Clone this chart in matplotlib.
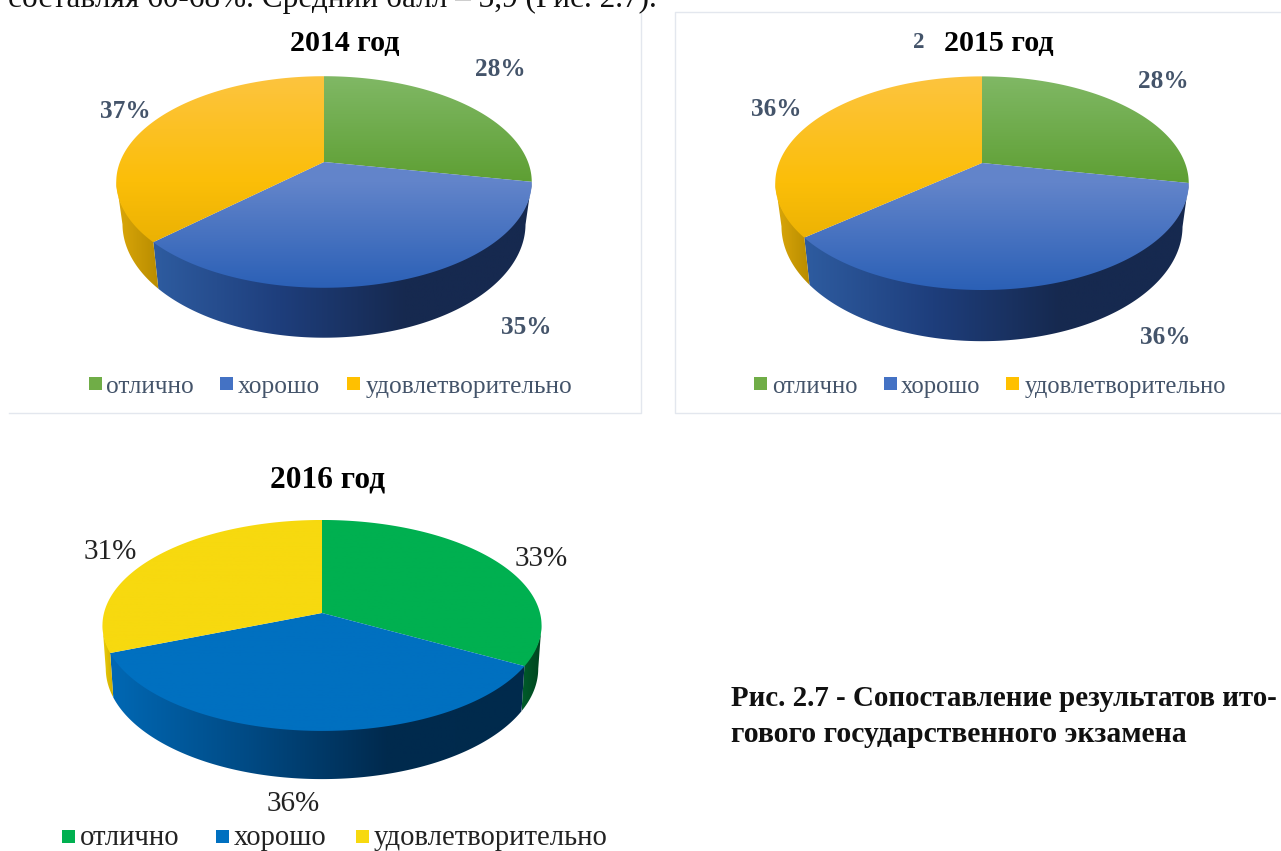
"""Three tilted 3D-look pies (exam results 2014-2016), drawn in page pixel coordinates."""
import numpy as np
import matplotlib
matplotlib.use("Agg")
import matplotlib.pyplot as plt
from matplotlib.colors import LinearSegmentedColormap
from matplotlib.patches import Polygon, Rectangle

plt.rcParams["font.family"] = ["Liberation Serif", "DejaVu Serif"]

CATEGORIES = ["отлично", "хорошо", "удовлетворительно"]
VALUES_2014 = [28, 35, 37]
VALUES_2015 = [28, 36, 36]
VALUES_2016 = [33, 36, 31]
TITLES = ["2014 год", "2015 год", "2016 год"]
HEADER = "составляя 60-68%. Средний балл – 3,9 (Рис. 2.7)."
CAPTION = ["Рис. 2.7 - Сопоставление результатов ито-", "гового государственного экзамена"]

W, H = 1281, 851
SLATE = "#44546a"

OFFICE_KEY = ["#70ad47", "#4472c4", "#ffc000"]
OFFICE_TOP = [["#80b865", "#5e9f33", "#5c9e31"], ["#6a88cc", "#6284ca", "#2b60b6"], ["#fdc43f", "#fbbe08", "#dfa800"]]
OFFICE_SIDE = [["#3d6a22", "#34591c"], ["#2e5ca0", "#1e3e7c", "#16294f", "#16294f"], ["#dca80a", "#b88c00"]]
FLAT_KEY = ["#00b050", "#0070c0", "#f7d90f"]
FLAT_TOP = [[c, c] for c in FLAT_KEY]
FLAT_SIDE = [["#005c2a", "#00421e"], ["#0068b4", "#004a84", "#002a4e", "#002a4c"], ["#efd00c", "#cfae00"]]

# layout of each panel: apex, horizontal radius, vertical scale, perspective, depth, rim shrink
PIES = [
    dict(values=VALUES_2014, cx=324, cy=162, rx=204, ry=102, k=0.189, depth=40.5, shrink=0.97,
         key=OFFICE_KEY, top=OFFICE_TOP, side=OFFICE_SIDE),
    dict(values=VALUES_2015, cx=982, cy=163, rx=203, ry=103, k=0.189, depth=41.5, shrink=0.97,
         key=OFFICE_KEY, top=OFFICE_TOP, side=OFFICE_SIDE),
    dict(values=VALUES_2016, cx=322, cy=613, rx=218, ry=104, k=0.118, depth=42.5, shrink=0.985,
         key=FLAT_KEY, top=FLAT_TOP, side=FLAT_SIDE),
]
LABEL_XY = [
    [(500, 69), (526, 327), (125, 112)],
    [(1163, 81), (1165, 337), (776, 109)],
    [(541, 559), (293, 804), (110, 552)],
]
TITLE_XY = [(345, 44), (999, 44), (328, 480)]
LEGENDS = [
    dict(y=385, boxes=[89, 220, 347], texts=[106, 238, 366], size=18.3, dy=2, color=SLATE),
    dict(y=385, boxes=[754, 884, 1006], texts=[772, 901, 1025], size=17.7, dy=2, color=SLATE),
    dict(y=838, boxes=[62, 216, 356], texts=[80, 234, 374], size=20.6, dy=0, color="#222222"),
]


def project(p, theta):
    """Ground-plane circle point -> screen pixels, with a simple perspective divide."""
    x, y = np.cos(theta), np.sin(theta)
    w = 1 + p["k"] * y
    return p["cx"] + p["rx"] * x / w, p["cy"] - p["ry"] * y / w


def project_rim(p, theta):
    x, y = project(p, theta)
    w = 1 + p["k"] * np.sin(theta)
    return p["cx"] + (x - p["cx"]) * p["shrink"], y + p["depth"] / w


def gradient_fill(ax, pts, colors, extent, horizontal, zorder):
    poly = Polygon(pts, closed=True, fc="none", ec="none")
    ax.add_patch(poly)
    cmap = LinearSegmentedColormap.from_list("fill", colors)
    ramp = np.linspace(0, 1, 256)
    ramp = ramp[None, :] if horizontal else ramp[:, None]
    im = ax.imshow(ramp, cmap=cmap, aspect="auto", zorder=zorder, extent=extent)
    im.set_clip_path(poly)


def draw_pie(ax, p):
    edges = np.cumsum([0] + p["values"]) / sum(p["values"])
    thetas = np.pi / 2 - edges * 2 * np.pi
    y_top = p["cy"] - p["ry"] / (1 + p["k"])
    y_bot = p["cy"] + p["ry"] / (1 - p["k"])

    for i in range(3):
        ts = np.linspace(thetas[i], thetas[i + 1], 300)
        # rim: only the front part of the arc, from one silhouette point to the other
        front = ts[np.sin(ts) <= -p["k"]]
        if len(front) > 1:
            ux, uy = project(p, front)
            dx, dy = project_rim(p, front)
            pts = np.column_stack([np.r_[ux, dx[::-1]], np.r_[uy - 1.5, dy[::-1]]])
            x0, x1 = pts[:, 0].min(), pts[:, 0].max()
            gradient_fill(ax, pts, p["side"][i], (x0, x1, y_bot + 80, y_top), True, 2)
        xs, ys = project(p, ts)
        pts = np.column_stack([np.r_[p["cx"], xs], np.r_[p["cy"], ys]])
        extent = (p["cx"] - p["rx"] * 1.1, p["cx"] + p["rx"] * 1.1, y_bot, y_top)
        gradient_fill(ax, pts, p["top"][i], extent, False, 3)


fig = plt.figure(figsize=(W / 100, H / 100), dpi=100)
ax = fig.add_axes([0, 0, 1, 1])

for p in PIES:
    draw_pie(ax, p)

ax.set_xlim(0, W)
ax.set_ylim(H, 0)
ax.axis("off")

# chart frames from the pasted screenshots
frame = dict(color="#e3e7ee", lw=1.0, zorder=1)
ax.plot([9, 641, 641], [413, 413, 12], **frame)
ax.plot([1281, 675, 675, 1281], [12, 12, 413, 413], **frame)

ax.text(8, 7, HEADER, fontsize=22.5, color="#111111", va="baseline", ha="left")

for n, (x, y) in enumerate(TITLE_XY):
    ax.text(x, y, TITLES[n], fontsize=21.6 if n < 2 else 22.6, fontweight="bold", color="black",
            ha="center", va="center", zorder=5)
ax.text(919, 43, "2", fontsize=16.5, fontweight="bold", color=SLATE, ha="center", va="center", zorder=5)

for n, p in enumerate(PIES):
    flat = n == 2
    for v, (x, y) in zip(p["values"], LABEL_XY[n]):
        ax.text(x, y, f"{v}%", fontsize=21 if flat else 18.2, fontweight="normal" if flat else "bold",
                color="#222222" if flat else SLATE, ha="center", va="center", zorder=5)
    leg = LEGENDS[n]
    for i, name in enumerate(CATEGORIES):
        ax.add_patch(Rectangle((leg["boxes"][i], leg["y"] - 8), 13, 13, fc=p["key"][i], ec="none", zorder=5))
        ax.text(leg["texts"][i], leg["y"] + leg["dy"], name, fontsize=leg["size"], color=leg["color"],
                ha="left", va="center", zorder=5)

for line, y, size in zip(CAPTION, [698, 734], [20.9, 21.4]):
    ax.text(731, y, line, fontsize=size, fontweight="bold", color="#111111", ha="left", va="center", zorder=5)

fig.savefig("out.png", dpi=100)
